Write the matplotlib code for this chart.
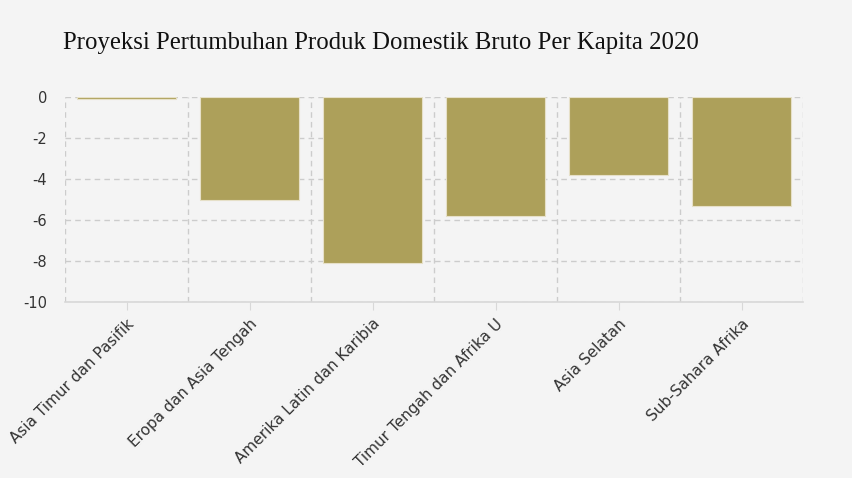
import numpy as np
from matplotlib import pyplot as plt

plt.rcParams['font.family'] = ['DejaVu Sans']

# Proyeksi pertumbuhan PDB per kapita 2020 (%)
regions = ["Asia Timur dan Pasifik", "Eropa dan Asia Tengah",
           "Amerika Latin dan Karibia", "Timur Tengah dan Afrika U",
           "Asia Selatan", "Sub-Sahara Afrika"]
growth = [-0.1, -5.0, -8.1, -5.8, -3.8, -5.3]
yticks = [0, -2, -4, -6, -8, -10]

bg = "#f4f4f4"
gridc = "#cccccc"

fig = plt.figure(figsize=(8.52, 4.78), dpi=100, facecolor=bg)
ax = fig.add_axes([65/852, 1 - 302.3/478, (803 - 65)/852, (302.3 - 97.3)/478])
ax.set_facecolor(bg)

x = np.arange(len(regions))
ax.bar(x, growth, width=0.8, color="#ada05a", edgecolor="#e6e0c8",
       linewidth=0.8, zorder=3)

ax.set_xlim(-0.5, len(regions) - 0.5)
ax.set_ylim(-10, 0)
ax.set_yticks(yticks)
ax.set_yticklabels([str(v) for v in yticks])

ax.set_xticks(x)
ax.set_xticklabels(regions, rotation=45, ha="right", rotation_mode="anchor")
ax.set_xticks(np.arange(len(regions) + 1) - 0.5, minor=True)

ax.grid(axis="y", color=gridc, linestyle=(0, (4, 3)), linewidth=1, zorder=0)
ax.grid(axis="x", which="minor", color=gridc, linestyle=(0, (4, 3)),
        linewidth=1, zorder=0)
ax.grid(axis="x", which="major", visible=False)

for s in ["top", "right", "left"]:
    ax.spines[s].set_visible(False)
ax.spines["bottom"].set_color("#d8d8d8")
ax.spines["bottom"].set_linewidth(1.2)

ax.tick_params(axis="x", which="major", length=6, color="#d8d8d8",
               labelsize=11, labelcolor="#333333", pad=4)
ax.tick_params(axis="x", which="minor", length=0)
ax.tick_params(axis="y", length=0, labelsize=10.5, labelcolor="#333333", pad=13)

fig.text(63/852, 1 - 43/478, "Proyeksi Pertumbuhan Produk Domestik Bruto Per Kapita 2020",
         family="Liberation Serif", fontsize=17.8, color="#111111", va="center")

fig.savefig("out.png", dpi=100, facecolor=bg)
